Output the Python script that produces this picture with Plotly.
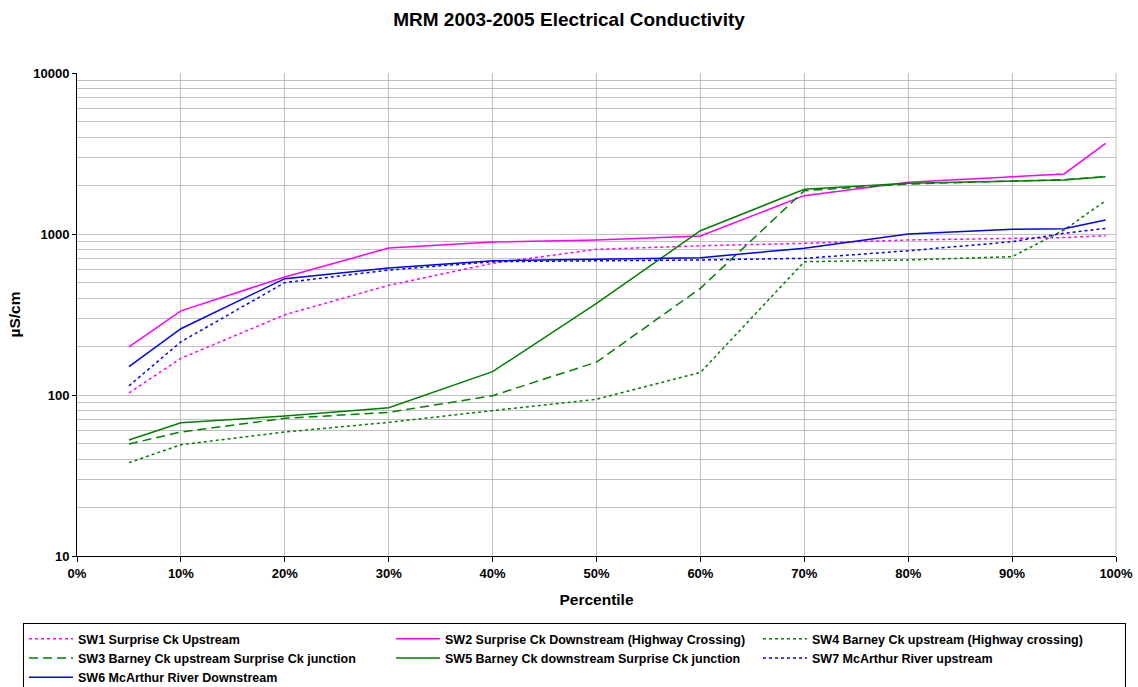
import plotly.graph_objects as go

percentiles = [5, 10, 20, 30, 40, 50, 60, 70, 80, 90, 95, 99]

sw1 = [103, 169, 315, 480, 658, 803, 845, 875, 918, 944, 950, 977]
sw2 = [199, 333, 541, 818, 891, 918, 972, 1730, 2096, 2260, 2360, 3660]
sw3 = [49.6, 58.9, 71.6, 78, 99, 160, 460, 1858, 2045, 2135, 2175, 2270]
sw4 = [38, 49.1, 58.9, 67.6, 80, 94, 138, 673, 690, 723, 1059, 1610]
sw5 = [52.5, 67.3, 74, 83.4, 139.6, 371, 1048, 1896, 2065, 2145, 2165, 2270]
sw6 = [150, 258, 528, 615, 683, 697, 713, 815, 1000, 1070, 1079, 1222]
sw7 = [114, 214, 499, 597, 673, 680, 690, 706, 787, 896, 1010, 1084]

names = {
    "sw1": "SW1 Surprise Ck Upstream",
    "sw2": "SW2 Surprise Ck Downstream (Highway Crossing)",
    "sw3": "SW3 Barney Ck upstream Surprise Ck junction",
    "sw4": "SW4 Barney Ck upstream (Highway crossing)",
    "sw5": "SW5 Barney Ck downstream Surprise Ck junction",
    "sw6": "SW6 McArthur River Downstream",
    "sw7": "SW7 McArthur River upstream",
}

MAG = "#FF00FF"
BLUE = "#0000FF"
GREEN = "#008000"
DOT = "3px,3px"
DASH = "9px,5px"

series = [
    ("sw1", sw1, MAG, DOT),
    ("sw2", sw2, MAG, "solid"),
    ("sw4", sw4, GREEN, DOT),
    ("sw3", sw3, GREEN, DASH),
    ("sw5", sw5, GREEN, "solid"),
    ("sw7", sw7, BLUE, DOT),
    ("sw6", sw6, BLUE, "solid"),
]

FONT = "Liberation Sans, Arial, sans-serif"

fig = go.Figure()
for key, vals, col, dash in series:
    fig.add_trace(go.Scatter(
        x=percentiles, y=vals, mode="lines", name=names[key],
        line=dict(color=col, width=1.5, dash=dash),
    ))

minor_vals = [m * 10 ** e for e in range(1, 4) for m in range(2, 10)]

fig.update_layout(
    width=1138, height=687,
    paper_bgcolor="white", plot_bgcolor="white",
    margin=dict(l=77, r=22, t=73, b=131, autoexpand=False),
    font=dict(family=FONT, color="black", size=12),
    title=dict(text="MRM 2003-2005 Electrical Conductivity", x=0.5, xanchor="center",
               y=1 - 19 / 687, yanchor="middle", yref="container",
               font=dict(family=FONT, size=19, weight="bold", color="black")),
    showlegend=True,
    legend=dict(
        orientation="h", x=(23 - 77) / 1039, xanchor="left", y=-67 / 483, yanchor="top",
        bordercolor="black", borderwidth=1, bgcolor="white",
        font=dict(family=FONT, size=12.5, weight="bold", color="black"),
        entrywidth=308, entrywidthmode="pixels", traceorder="normal",
        itemwidth=44, tracegroupgap=0,
    ),
    xaxis=dict(
        range=[0, 100], dtick=10, tick0=0, ticksuffix="%",
        showgrid=True, gridcolor="#C0C0C0", gridwidth=1,
        showline=True, linecolor="black", linewidth=1, mirror=False,
        ticks="outside", ticklen=5, tickcolor="black",
        tickfont=dict(family=FONT, size=13, weight="bold"),
        title=dict(text="Percentile", font=dict(family=FONT, size=15.5, weight="bold"), standoff=14),
        zeroline=False,
    ),
    yaxis=dict(
        type="log", range=[1, 4], tickvals=[10, 100, 1000, 10000],
        ticktext=["10", "100", "1000", "10000"],
        showgrid=True, gridcolor="#C0C0C0", gridwidth=1,
        minor=dict(tickvals=minor_vals, showgrid=True, gridcolor="#C0C0C0", gridwidth=1, ticks=""),
        showline=True, linecolor="black", linewidth=1,
        ticks="outside", ticklen=4, tickcolor="black",
        tickfont=dict(family=FONT, size=13, weight="bold"),
        title=dict(text="µS/cm", font=dict(family=FONT, size=15.5, weight="bold"), standoff=8),
        zeroline=False,
    ),
)

# right border of plot area (gray)
fig.add_shape(type="line", xref="paper", yref="paper", x0=1, x1=1, y0=0, y1=1,
              line=dict(color="#C0C0C0", width=1))

fig.write_html("out.html")
